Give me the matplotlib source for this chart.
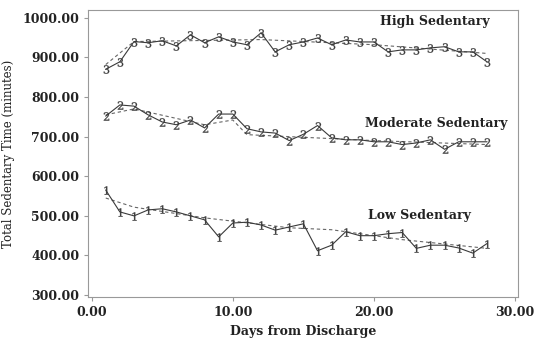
import matplotlib
matplotlib.use("Agg")
from matplotlib import pyplot as plt

plt.rcParams['font.family'] = 'DejaVu Serif'
plt.rcParams['mathtext.fontset'] = 'dejavuserif'

days = list(range(1, 29))

high = [870, 889, 940, 937, 942, 929, 957, 937, 952, 939, 932, 962, 914, 932,
        939, 949, 932, 944, 939, 939, 914, 919, 919, 924, 927, 914, 914, 889]
moderate = [752, 780, 777, 755, 737, 730, 742, 722, 757, 757, 720, 712, 709, 690,
            706, 728, 697, 692, 692, 687, 687, 680, 684, 692, 668, 687, 687, 687]
low = [565, 510, 500, 515, 518, 510, 500, 490, 447, 482, 484, 477, 464, 472,
       480, 412, 426, 460, 450, 450, 455, 458, 418, 426, 426, 419, 406, 430]

# fitted trend (dashed), piecewise knots
high_fit_days = [1, 3, 12, 20, 28]
high_fit = [882, 940, 945, 932, 910]
mod_fit_days = [1, 3, 8, 10, 11, 20, 28]
mod_fit = [755, 770, 730, 742, 705, 690, 680]
low_fit_days = [1, 3, 8, 14, 17, 22, 28]
low_fit = [545, 522, 495, 470, 465, 440, 418]

labels = ["High Sedentary", "Moderate Sedentary", "Low Sedentary"]
label_pos = [(24.3, 990), (24.4, 732), (23.2, 500)]

fig = plt.figure(figsize=(5.34, 3.52), dpi=100)
ax = fig.add_axes([0.165, 0.156, 0.805, 0.816])

series = [(high, '$3$', high_fit_days, high_fit),
          (moderate, '$2$', mod_fit_days, mod_fit),
          (low, '$1$', low_fit_days, low_fit)]
for vals, mk, fd, fv in series:
    ax.plot(fd, fv, color='#666666', lw=0.8, ls=(0, (3, 2.5)))
    ax.plot(days, vals, color='#3a3a3a', lw=0.8, marker=mk, markersize=6,
            markeredgewidth=0.2)

for text, (x, y) in zip(labels, label_pos):
    ax.text(x, y, text, ha='center', va='center', fontsize=9,
            fontweight='bold', color='#222222')

ax.set_xlim(-0.25, 30.2)
ax.set_ylim(295, 1020)
ax.set_xticks([0, 10, 20, 30])
ax.set_yticks(range(300, 1001, 100))
ax.xaxis.set_major_formatter(plt.FormatStrFormatter('%.2f'))
ax.yaxis.set_major_formatter(plt.FormatStrFormatter('%.2f'))
ax.tick_params(labelsize=9, colors='#222222', length=3, color='#999999')
for lab in ax.get_xticklabels() + ax.get_yticklabels():
    lab.set_fontweight('bold')
for sp in ax.spines.values():
    sp.set_color('#999999')

ax.set_xlabel("Days from Discharge", fontsize=9, fontweight='bold', color='#222222')
ax.set_ylabel("Total Sedentary Time (minutes)", fontsize=8.5,
              color='#222222', labelpad=5)

fig.savefig("out.png", dpi=100)
